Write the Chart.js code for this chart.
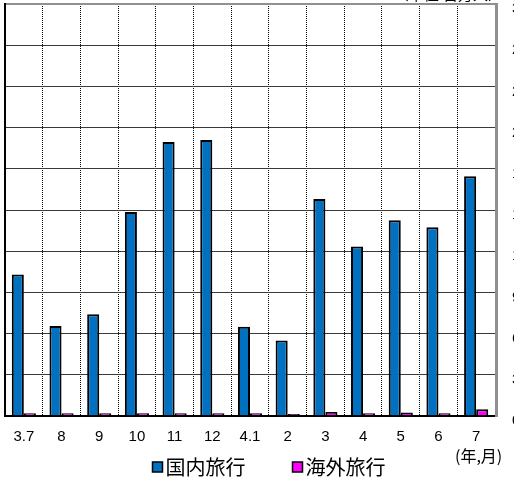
<!DOCTYPE html>
<html><head><meta charset="utf-8">
<script src="https://cdn.jsdelivr.net/npm/chart.js@4.4.1/dist/chart.umd.min.js"></script>
<style>
html,body{margin:0;padding:0;background:#fff;overflow:hidden;width:514px;height:479px;}
#wrap{position:absolute;left:0;top:0;width:514px;height:479px;overflow:hidden;}
canvas{display:block;}
</style></head>
<body><div id="wrap"><canvas id="c" width="560" height="479"></canvas></div>
<script>
const categories = ["3.7","8","9","10","11","12","4.1","2","3","4","5","6","7"];
const domestic = [10.3, 6.55, 7.4, 14.85, 19.95, 20.1, 6.5, 5.5, 15.8, 12.35, 14.25, 13.75, 17.45];
const overseas = [0.2, 0.2, 0.2, 0.2, 0.2, 0.2, 0.2, 0.15, 0.3, 0.2, 0.25, 0.2, 0.5];
const seriesNames = ["国内旅行","海外旅行"];
const yTicks = [0,3,6,9,12,15,18,21,24,27,30];
const unitLabel = "（単位:百万人）";
const xUnitLabel = "(年,月)";

const framePlugin = {
  id:'frame',
  afterDatasetsDraw(chart){
    const {ctx, chartArea:a} = chart;
    ctx.save();
    ctx.lineWidth = 2;
    ctx.strokeStyle = '#909090';
    ctx.beginPath(); ctx.moveTo(a.left, a.top); ctx.lineTo(a.right+1, a.top); ctx.stroke();
    ctx.lineWidth = 3;
    ctx.beginPath(); ctx.moveTo(a.right+1.5, a.top-1); ctx.lineTo(a.right+1.5, a.bottom+1); ctx.stroke();
    ctx.strokeStyle = '#000';
    ctx.lineWidth = 2;
    ctx.beginPath(); ctx.moveTo(a.left, a.top-1); ctx.lineTo(a.left, a.bottom+1); ctx.stroke();
    ctx.beginPath(); ctx.moveTo(a.left, a.bottom); ctx.lineTo(a.right, a.bottom); ctx.stroke();
    ctx.restore();
  },
  afterDraw(chart){
    const {ctx} = chart;
    ctx.save();
    ctx.fillStyle = '#000';
    ctx.font = '15px "Noto Sans CJK JP"';
    ctx.textAlign = 'right'; ctx.textBaseline = 'alphabetic';
    ctx.fillText(unitLabel, 503, 0);
    ctx.font = '16px "Noto Sans CJK JP"';
    ctx.textAlign = 'left'; ctx.textBaseline = 'middle';
    ctx.fillText(xUnitLabel, 455, 456);
    // legend
    ctx.font = '20px "Noto Sans CJK JP"';
    const ds = chart.data.datasets;
    const box = 10, gapBT = 3, gap = 47;
    const widths = ds.map(d => box + gapBT + ctx.measureText(d.label).width);
    const total = widths.reduce((s,w)=>s+w,0) + gap*(ds.length-1);
    let x = 269 - total/2;
    const y = 467;
    ds.forEach((d,i)=>{
      ctx.fillStyle = d.backgroundColor;
      ctx.fillRect(x, y-5, box, box);
      ctx.strokeStyle = '#000'; ctx.lineWidth = 1.5;
      ctx.strokeRect(x, y-5, box, box);
      ctx.fillStyle = '#000';
      ctx.textBaseline = 'middle';
      ctx.fillText(d.label, x + box + gapBT, y);
      x += widths[i] + gap;
    });
    ctx.restore();
  }
};

new Chart(document.getElementById('c'), {
  type:'bar',
  data:{
    labels: categories,
    datasets:[
      {label: seriesNames[0], data: domestic, backgroundColor:'#0070C0', borderColor:'#000', borderWidth:2},
      {label: seriesNames[1], data: overseas, backgroundColor:'#FF00FF', borderColor:'#000', borderWidth:2}
    ]
  },
  options:{
    responsive:false,
    animation:false,
    layout:{padding:{left:5, top:4, right:0, bottom:0}},
    datasets:{bar:{categoryPercentage:0.64, barPercentage:1.0, borderSkipped:'start'}},
    plugins:{legend:{display:false}, tooltip:{enabled:false}},
    scales:{
      x:{
        grid:{color:'#000', lineWidth:1, drawTicks:false, offset:true},
        border:{display:false, dash:[1,1]},
        ticks:{color:'#000', font:{family:'"Liberation Sans", Arial', size:15}, padding:12, maxRotation:0, autoSkip:false},
        afterFit(s){ s.height = 63; s.paddingLeft = 0; s.paddingRight = 0; }
      },
      y:{
        position:'right',
        min:0, max:30,
        afterBuildTicks(s){ s.ticks = yTicks.map(v=>({value:v})); },
        grid:{color:'#3a3a3a', lineWidth:1, drawTicks:false},
        border:{display:false},
        ticks:{color:'#000', font:{family:'"Liberation Sans", Arial', size:15}, padding:17, labelOffset:5},
        afterFit(s){ s.width = 65; s.paddingTop = 0; s.paddingBottom = 0; }
      }
    }
  },
  plugins:[framePlugin]
});
</script>
</body></html>
